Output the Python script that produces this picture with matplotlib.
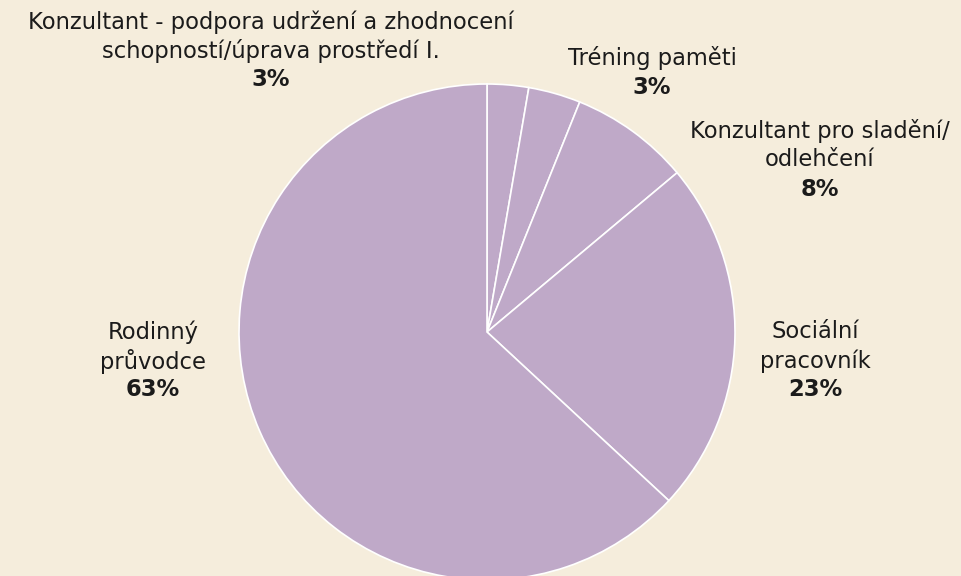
import matplotlib
matplotlib.use("Agg")
import matplotlib.pyplot as plt

categories = [
    "Konzultant - podpora udržení a zhodnocení\nschopností/úprava prostředí I.",
    "Tréning paměti",
    "Konzultant pro sladění/\nodlehčení",
    "Sociální\npracovník",
    "Rodinný\nprůvodce",
]
values = [2.7, 3.4, 7.8, 23.0, 63.1]
pct_labels = ["3%", "3%", "8%", "23%", "63%"]

W, H = 962, 576
BG = "#f5eddc"
SLICE = "#bfa9c8"
TXT = "#1b1b1b"

fig = plt.figure(figsize=(W / 100, H / 100), dpi=100, facecolor=BG)
cx, cy, r = 487, 332, 248
ax = fig.add_axes([(cx - r) / W, (H - cy - r) / H, 2 * r / W, 2 * r / H])
ax.set_facecolor(BG)
ax.pie(values, colors=[SLICE] * len(values), startangle=90, counterclock=False,
       radius=1.0, wedgeprops=dict(edgecolor="white", linewidth=1.2))
ax.set_xlim(-1, 1)
ax.set_ylim(-1, 1)
ax.set_aspect("equal")
ax.axis("off")

# label centers (pixel x, pixel y of first line center)
label_pos = [(271, 22), (652, 58), (820, 131), (815, 332), (153, 332)]
line_h = 29
fam = ["DejaVu Sans"]
for name, pct, (x, y) in zip(categories, pct_labels, label_pos):
    n = name.count("\n") + 1
    for i, line in enumerate(name.split("\n")):
        fig.text(x / W, 1 - (y + i * line_h) / H, line, ha="center", va="center",
                 fontsize=16.3, color=TXT, family=fam)
    fig.text(x / W, 1 - (y + n * line_h) / H, pct, ha="center", va="center",
             fontsize=16.3, color=TXT, family=fam, fontweight="bold")

fig.savefig("out.png", dpi=100, facecolor=BG)
